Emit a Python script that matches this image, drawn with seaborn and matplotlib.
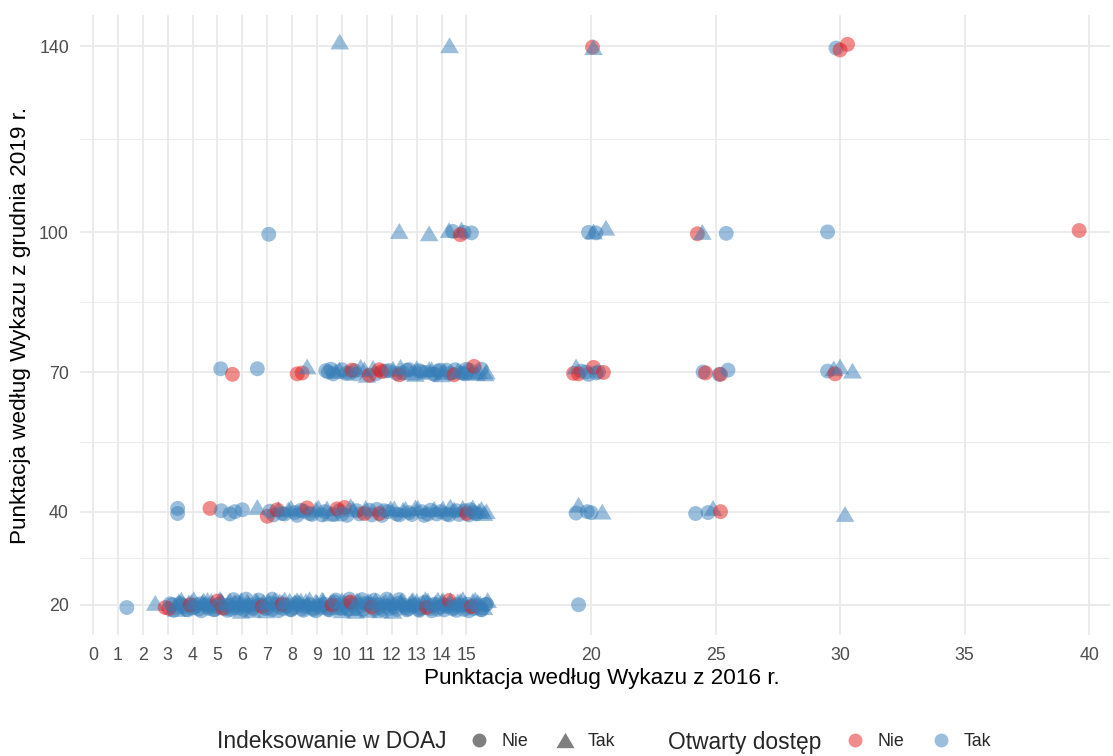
import numpy as np
import pandas as pd
import matplotlib
matplotlib.use("Agg")
import matplotlib.pyplot as plt
import seaborn as sns
from matplotlib.lines import Line2D

# ------------------------------
# Data (jittered points), one block per 2019 level
# N = Nie, T = Tak
# ------------------------------
x140 = [9.91, 14.32, 20.06, 20.1, 29.84, 30.0, 30.3]
y140 = [141.0, 140.2, 139.8, 139.8, 139.6, 139.2, 140.4]
doaj140 = list("TTNTNNN")
oa140 = list("TTNTTNN")

x100 = [7.06, 12.3, 13.5, 14.3, 14.45, 14.8, 14.9, 14.75, 15.2, 19.9,
        20.2, 20.1, 20.6, 24.27, 24.47, 25.43, 29.5, 39.6]
y100 = [99.6, 100.3, 99.8, 100.5, 100.2, 100.6, 100.0, 99.5, 99.9, 100.0,
        99.9, 100.2, 101.0, 99.7, 100.1, 99.8, 100.1, 100.4]
doaj100 = list("NTTTNTNNN" "NNTTNTNNN")
oa100 = list("TTTTTTTNT" "TTTTNTTTN")

x70 = [5.13, 5.6, 6.6, 8.2, 8.4, 8.6, 9.35, 9.55, 9.75, 10.0,
       10.15, 10.4, 10.55, 10.75, 11.0, 11.1, 11.25, 11.5, 11.6, 11.9,
       12.2, 12.3, 12.35, 12.6, 12.8, 13.0, 13.2, 13.5, 13.65, 13.85,
       14.0, 14.2, 14.5, 14.65, 14.85, 15.0, 15.2, 15.3, 15.5, 15.75,
       19.3, 19.4, 19.5, 19.8, 19.9, 20.1, 20.3, 20.5, 24.5, 24.6,
       25.15, 25.2, 25.5, 29.5, 29.75, 29.8, 30.0, 30.5]
y70 = [70.7, 69.5, 70.7, 69.6, 69.8, 71.2, 70.3, 70.6, 70.2, 70.5,
       69.7, 70.4, 69.6, 71.1, 69.4, 69.3, 70.9, 70.5, 70.1, 70.3,
       69.7, 69.4, 71.1, 70.4, 69.9, 70.8, 70.0, 70.6, 69.6, 70.2,
       69.5, 70.4, 69.4, 70.3, 69.7, 70.6, 70.0, 71.2, 70.2, 69.7,
       69.7, 71.2, 69.6, 70.0, 69.5, 71.0, 70.0, 69.9, 70.0, 69.8,
       69.5, 69.5, 70.4, 70.2, 70.8, 69.6, 71.2, 70.3]
doaj70 = list("NNNNNTNNTN" "NNNTTNTNNN" "NNTNTTNTNN" "TNNTNNTNTT" "NTNNNNNNNN" "NNNNTNTT")
oa70 = list("TNTNNTTTTT" "TNTTTNTNNT" "TNTTTTTTTT" "TTNTTTTNTT" "NTNTTNTNTN" "TNTTTNTT")

# extra blue points filling the dense part of the 70 band
x70b = [9.45, 9.65, 9.9, 10.3, 10.5, 10.9, 11.35, 11.75, 12.05, 12.45,
        12.7, 12.95, 13.1, 13.35, 13.6, 13.75, 13.95, 14.1, 14.35, 14.55,
        14.75, 14.95, 15.1, 15.4, 15.6, 15.8, 19.6, 20.2]
y70b = [70.0, 69.6, 70.5, 69.7, 70.3, 70.6, 69.6, 70.2, 70.7, 69.8,
        70.5, 69.6, 70.3, 69.9, 70.6, 69.5, 70.4, 70.0, 69.7, 70.5,
        70.1, 69.6, 70.4, 69.8, 70.6, 70.1, 70.2, 69.8]
doaj70b = list("NNTNNTNNTN" "NTNNTNNTNN" "TNNTNTNN")
oa70b = list("TTTTTTTTTT" "TTTTTTTTTT" "TTTTTTTT")

x40 = [3.4, 3.4, 4.7, 5.15, 5.5, 5.7, 6.0, 6.6, 7.0, 7.1,
       7.4, 7.6, 7.85, 8.1, 8.35, 8.6, 8.8, 9.05, 9.3, 9.55,
       9.8, 10.1, 10.0, 10.35, 10.6, 10.9, 11.1, 11.5, 11.7, 11.95,
       12.2, 12.45, 12.7, 12.95, 13.2, 13.45, 13.7, 13.95, 14.2, 14.35,
       14.6, 14.85, 15.0, 15.15, 15.3, 15.5, 15.7, 19.4, 19.5, 19.85,
       20.0, 20.45, 24.2, 24.7, 24.9, 25.2, 30.2]
y40 = [40.7, 39.6, 40.7, 40.2, 39.5, 40.0, 40.4, 41.0, 39.0, 40.1,
       40.4, 39.6, 40.5, 39.8, 40.3, 40.8, 39.4, 40.9, 40.0, 39.6,
       40.6, 40.9, 39.5, 41.2, 40.2, 39.6, 40.3, 39.6, 40.2, 40.7,
       39.5, 40.4, 39.8, 40.9, 40.0, 39.5, 40.6, 40.0, 39.5, 41.1,
       40.2, 40.8, 39.6, 40.4, 39.8, 40.2, 39.7, 39.7, 41.5, 40.0,
       39.8, 40.0, 39.6, 39.8, 40.8, 40.0, 39.5]
doaj40 = list("NNNNNNNTNN" "NNTNNNNTNT" "NNNTNNNNNT" "NTNTNNTNNT" "NTNNNTTNTN" "NTNNTNT")
oa40 = list("TTNTTTTTNT" "NTTTTNTTTT" "NNTTTNTNTT" "TTTTTTTTTT" "TTNTTTTTTT" "TTTTTNT")

# extra blue points filling the dense part of the 40 band
x40b = [7.25, 7.45, 7.7, 7.95, 8.2, 8.45, 8.7, 8.95, 9.2, 9.4,
        9.65, 9.9, 10.2, 10.45, 10.7, 10.95, 11.2, 11.4, 11.6, 11.85,
        12.1, 12.3, 12.55, 12.8, 13.05, 13.3, 13.55, 13.8, 14.05, 14.3,
        14.5, 14.7, 14.95, 15.1, 15.25, 15.4, 15.6, 15.8]
y40b = [39.3, 40.6, 39.5, 40.8, 39.2, 40.1, 39.6, 40.5, 39.3, 40.7,
        39.4, 40.2, 39.2, 40.6, 39.5, 40.8, 39.3, 40.5, 39.2, 40.0,
        40.7, 39.3, 40.6, 39.4, 40.8, 39.2, 40.3, 39.5, 40.7, 39.3,
        40.5, 39.4, 40.2, 39.3, 40.9, 39.5, 40.6, 40.1]
doaj40b = list("NTNTNNNTNT" "NNNTNTNNNN" "TNTNTNNNTN" "TNNNTNTT")
oa40b = list("TTTTTTTTTT" "TTTTTTTTTT" "TTTTTTTTTT" "TTTTTTTT")

x20 = [1.36, 2.5, 2.9, 3.05, 3.1, 3.3, 3.5, 3.7, 3.9, 3.95,
       4.1, 4.3, 4.45, 4.6, 4.8, 5.0, 5.0, 5.2, 5.2, 5.35,
       5.5, 5.65, 5.8, 5.95, 6.1, 6.25, 6.4, 6.55, 6.7, 6.8,
       6.85, 7.0, 7.15, 7.3, 7.45, 7.6, 7.6, 7.75, 7.9, 8.05,
       8.2, 8.35, 8.5, 8.65, 8.8, 8.95, 9.1, 9.25, 9.4, 9.55,
       9.6, 9.7, 9.85, 10.0, 10.15, 10.3, 10.35, 10.45, 10.6, 10.75,
       10.9, 11.05, 11.2, 11.2, 11.35, 11.5, 11.65, 11.8, 11.95, 12.1,
       12.25, 12.4, 12.55, 12.7, 12.85, 13.0, 13.15, 13.3, 13.4, 13.45,
       13.6, 13.75, 13.9, 14.05, 14.2, 14.3, 14.35, 14.5, 14.65, 14.8,
       14.95, 15.1, 15.2, 15.25, 15.4, 15.55, 15.7, 15.8, 19.5]
y20 = [19.4, 20.4, 19.4, 19.2, 20.2, 19.7, 20.3, 19.6, 20.0, 20.6,
       19.5, 20.2, 20.9, 19.6, 20.3, 20.8, 19.5, 19.3, 20.5, 19.8,
       20.9, 19.4, 20.4, 21.0, 19.6, 20.2, 19.4, 20.9, 19.9, 19.6,
       20.6, 19.3, 20.3, 21.0, 19.5, 20.1, 20.6, 19.7, 20.9, 19.4,
       20.4, 20.9, 19.6, 20.2, 19.3, 20.7, 19.8, 20.9, 19.4, 20.3,
       19.9, 20.6, 19.5, 21.0, 19.7, 20.4, 20.6, 19.3, 20.9, 19.8,
       20.3, 20.8, 19.5, 20.1, 20.9, 19.4, 20.4, 19.7, 21.0, 19.5,
       20.3, 20.9, 19.4, 20.2, 19.7, 20.8, 19.3, 20.5, 19.4, 20.9,
       19.8, 20.4, 19.5, 21.0, 19.6, 20.9, 20.2, 19.4, 20.7, 19.8,
       20.4, 19.5, 19.6, 20.8, 19.9, 20.3, 19.5, 20.1, 20.0]
doaj20 = list("NTNNNTNNNT" "NNTNTNNNTN" "TNNTNTNTNN" "TNNTNNTNTN" "NTNTNTNTNT"
              "NNTTNNNTTN" "NTNNTNTNTN" "NTNTNTNNNT" "NTNTNNTNTN" "TNNTNTTNN")
oa20 = list("TTNNTTTTNT" "TTTTTNTNTT" "TTTTTTTTTN" "TTTTTNTTTT" "TTTTTTTTTT"
            "NTTTTTNTTT" "TTNTTTTTTT" "TTTTTTTTNT" "TTTTTNTTTT" "TTNTTTTTT")

# extra blue points filling the dense 20 band
x20b = [3.2, 3.35, 3.45, 3.6, 3.75, 3.85, 4.0, 4.15, 4.25, 4.4,
        4.55, 4.65, 4.75, 4.9, 5.05, 5.15, 5.3, 5.45, 5.55, 5.7,
        5.85, 5.9, 6.05, 6.2, 6.3, 6.45, 6.6, 6.75, 6.9, 7.05,
        7.2, 7.35, 7.5, 7.65, 7.8, 7.95, 8.1, 8.25, 8.4, 8.55,
        8.7, 8.85, 9.0, 9.15, 9.3, 9.45, 9.65, 9.8, 9.95, 10.1,
        10.25, 10.4, 10.55, 10.7, 10.85, 11.0, 11.15, 11.3, 11.45, 11.6,
        11.75, 11.9, 12.05, 12.2, 12.35, 12.5, 12.65, 12.8, 12.95, 13.1,
        13.25, 13.55, 13.7, 13.85, 14.0, 14.15, 14.45, 14.6, 14.75, 14.9,
        15.05, 15.3, 15.45, 15.6, 15.75]
y20b = [20.0, 19.1, 20.7, 19.9, 19.0, 20.5, 19.3, 20.0, 19.1, 20.6,
        20.0, 19.2, 20.8, 19.0, 20.1, 20.9, 19.2, 20.0, 19.0, 20.6,
        19.3, 20.1, 19.0, 20.7, 19.9, 19.1, 20.5, 20.0, 19.2, 20.8,
        19.0, 20.1, 20.7, 19.2, 20.0, 19.0, 20.6, 19.9, 19.1, 20.8,
        20.0, 19.0, 20.5, 19.3, 20.1, 19.0, 20.7, 19.9, 19.2, 20.6,
        19.0, 20.0, 19.2, 20.8, 19.0, 20.1, 20.6, 19.1, 20.0, 19.0,
        20.7, 19.2, 20.0, 19.0, 20.6, 19.9, 19.1, 20.8, 20.0, 19.0,
        20.5, 19.2, 20.1, 19.0, 20.7, 19.9, 19.1, 20.0, 20.8, 19.0,
        20.1, 19.2, 20.6, 19.0, 20.0]
doaj20b = list("NTTNNTNNNT" "NNTNNTNNNT" "NTNTNNTNNT" "NNTNNNTNNT" "NNTNNNTNNT"
               "NNNTNNTNNN" "TNNNTNNTNN" "TNNNTNNNTN" "NNTNN")
oa20b = list("TTTTTTTTTT" "TTTTTTTTTT" "TTTTTTTTTT" "TTTTTTTTTT" "TTTTTTTTTT"
             "TTTTTTTTTT" "TTTTTTTTTT" "TTTTTTTTTT" "TTTTT")

# outer edge of the 20 band (widest jitter)
x20c = [3.25, 3.55, 3.8, 4.05, 4.35, 4.6, 4.85, 5.1, 5.4, 5.65,
        5.95, 6.15, 6.4, 6.65, 6.95, 7.2, 7.45, 7.7, 7.95, 8.2,
        8.45, 8.7, 8.95, 9.2, 9.5, 9.75, 10.0, 10.3, 10.55, 10.8,
        11.05, 11.3, 11.55, 11.8, 12.05, 12.3, 12.6, 12.85, 13.1, 13.35,
        13.6, 13.85, 14.1, 14.35, 14.6, 14.85, 15.1, 15.35, 15.6, 15.85]
y20c = [18.8, 21.1, 18.9, 21.2, 18.7, 21.0, 18.9, 21.2, 18.8, 21.1,
        18.7, 21.2, 18.9, 21.0, 18.8, 21.2, 18.7, 21.1, 18.9, 21.0,
        18.8, 21.2, 18.7, 21.1, 18.9, 21.0, 18.8, 21.2, 18.7, 21.1,
        18.9, 21.0, 18.8, 21.2, 18.7, 21.1, 18.9, 21.0, 18.8, 21.2,
        18.7, 21.1, 18.9, 21.0, 18.8, 21.2, 18.7, 21.1, 18.9, 21.0]
doaj20c = list("NTNTNTNTNN" "TNTNTNNTNT" "NTNTNNTNTN" "TNTNTNNTNT" "NTNTNTNTNT")
oa20c = list("TTTTTTTTTT" "TTTTTTTTTT" "TTTTTTTTTT" "TTTTTTTTTT" "TTTTTTTTTT")

x_ticks = list(range(0, 16)) + [20, 25, 30, 35, 40]
y_ticks = [20, 40, 70, 100, 140]
y_minor = [30, 55, 85, 120]

# ------------------------------
# Build the data frame (fillers first so the read points sit on top)
# ------------------------------
blocks = [(x20c, y20c, doaj20c, oa20c), (x20b, y20b, doaj20b, oa20b),
          (x40b, y40b, doaj40b, oa40b), (x70b, y70b, doaj70b, oa70b),
          (x20, y20, doaj20, oa20), (x40, y40, doaj40, oa40),
          (x70, y70, doaj70, oa70), (x100, y100, doaj100, oa100),
          (x140, y140, doaj140, oa140)]
frames = []
for bx, by, bd, bo in blocks:
    assert len(bx) == len(by) == len(bd) == len(bo)
    frames.append(pd.DataFrame({"p2016": bx, "p2019": by, "doaj": bd, "oa": bo}))
df = pd.concat(frames, ignore_index=True)
names = {"N": "Nie", "T": "Tak"}
df["doaj"] = df["doaj"].map(names)
df["oa"] = df["oa"].map(names)

# ------------------------------
# Plot
# ------------------------------
sns.set_theme(style="white")
plt.rcParams["font.family"] = ["Liberation Sans", "DejaVu Sans"]

red, blue = "#E41A1C", "#377EB8"
tri = [(0, 0.85), (-1, -0.85), (1, -0.85)]

fig = plt.figure(figsize=(11.13, 7.56), dpi=100)
ax = fig.add_axes([80 / 1113, 1 - 635 / 756, 1030 / 1113, 620 / 756])

sns.scatterplot(data=df, x="p2016", y="p2019", hue="oa", style="doaj", size="doaj",
                palette={"Nie": red, "Tak": blue},
                markers={"Nie": "o", "Tak": tri},
                sizes={"Nie": 115, "Tak": 180},
                hue_order=["Nie", "Tak"], style_order=["Nie", "Tak"],
                alpha=0.5, linewidth=0, edgecolor="none", legend=False, ax=ax)

ax.set_xlim(-0.52, 40.84)
ax.set_ylim(13.5, 146.7)
ax.set_xticks(x_ticks)
ax.set_yticks(y_ticks)
ax.set_yticks(y_minor, minor=True)
ax.grid(True, which="major", color="#EBEBEB", linewidth=1.4)
ax.grid(True, which="minor", axis="y", color="#EBEBEB", linewidth=0.7)
ax.set_axisbelow(True)
for s in ax.spines.values():
    s.set_visible(False)
ax.tick_params(axis="both", which="both", length=0, labelsize=12.8, labelcolor="#4D4D4D")
ax.tick_params(axis="x", pad=9)
ax.tick_params(axis="y", pad=8)
ax.set_xlabel("Punktacja według Wykazu z 2016 r.", fontsize=16.2, color="black")
ax.set_ylabel("Punktacja według Wykazu z grudnia 2019 r.", fontsize=16.2, color="black", labelpad=6)
ax.xaxis.set_label_coords(0.507, -0.054)

# ------------------------------
# Legend at the bottom (two groups in one row)
# ------------------------------
ly = 1 - 742 / 756
fig.text(217 / 1113, ly, "Indeksowanie w DOAJ", fontsize=16.4, va="center", ha="left")
h1 = [Line2D([], [], marker="o", linestyle="none", markersize=10, markerfacecolor="black",
             markeredgewidth=0, alpha=0.5),
      Line2D([], [], marker=tri, linestyle="none", markersize=13, markerfacecolor="black",
             markeredgewidth=0, alpha=0.5)]
fig.legend(h1, ["Nie", "Tak"], ncol=2, loc="center left", bbox_to_anchor=(459 / 1113, ly),
           frameon=False, fontsize=12.8, borderpad=0, handlelength=1.2, handletextpad=0.7,
           columnspacing=1.45)

fig.text(668 / 1113, ly, "Otwarty dostęp", fontsize=16.4, va="center", ha="left")
h2 = [Line2D([], [], marker="o", linestyle="none", markersize=10, markerfacecolor=c,
             markeredgewidth=0, alpha=0.5) for c in (red, blue)]
fig.legend(h2, ["Nie", "Tak"], ncol=2, loc="center left", bbox_to_anchor=(835 / 1113, ly),
           frameon=False, fontsize=12.8, borderpad=0, handlelength=1.2, handletextpad=0.7,
           columnspacing=1.45)

fig.savefig("out.png", dpi=100)
plt.close(fig)
